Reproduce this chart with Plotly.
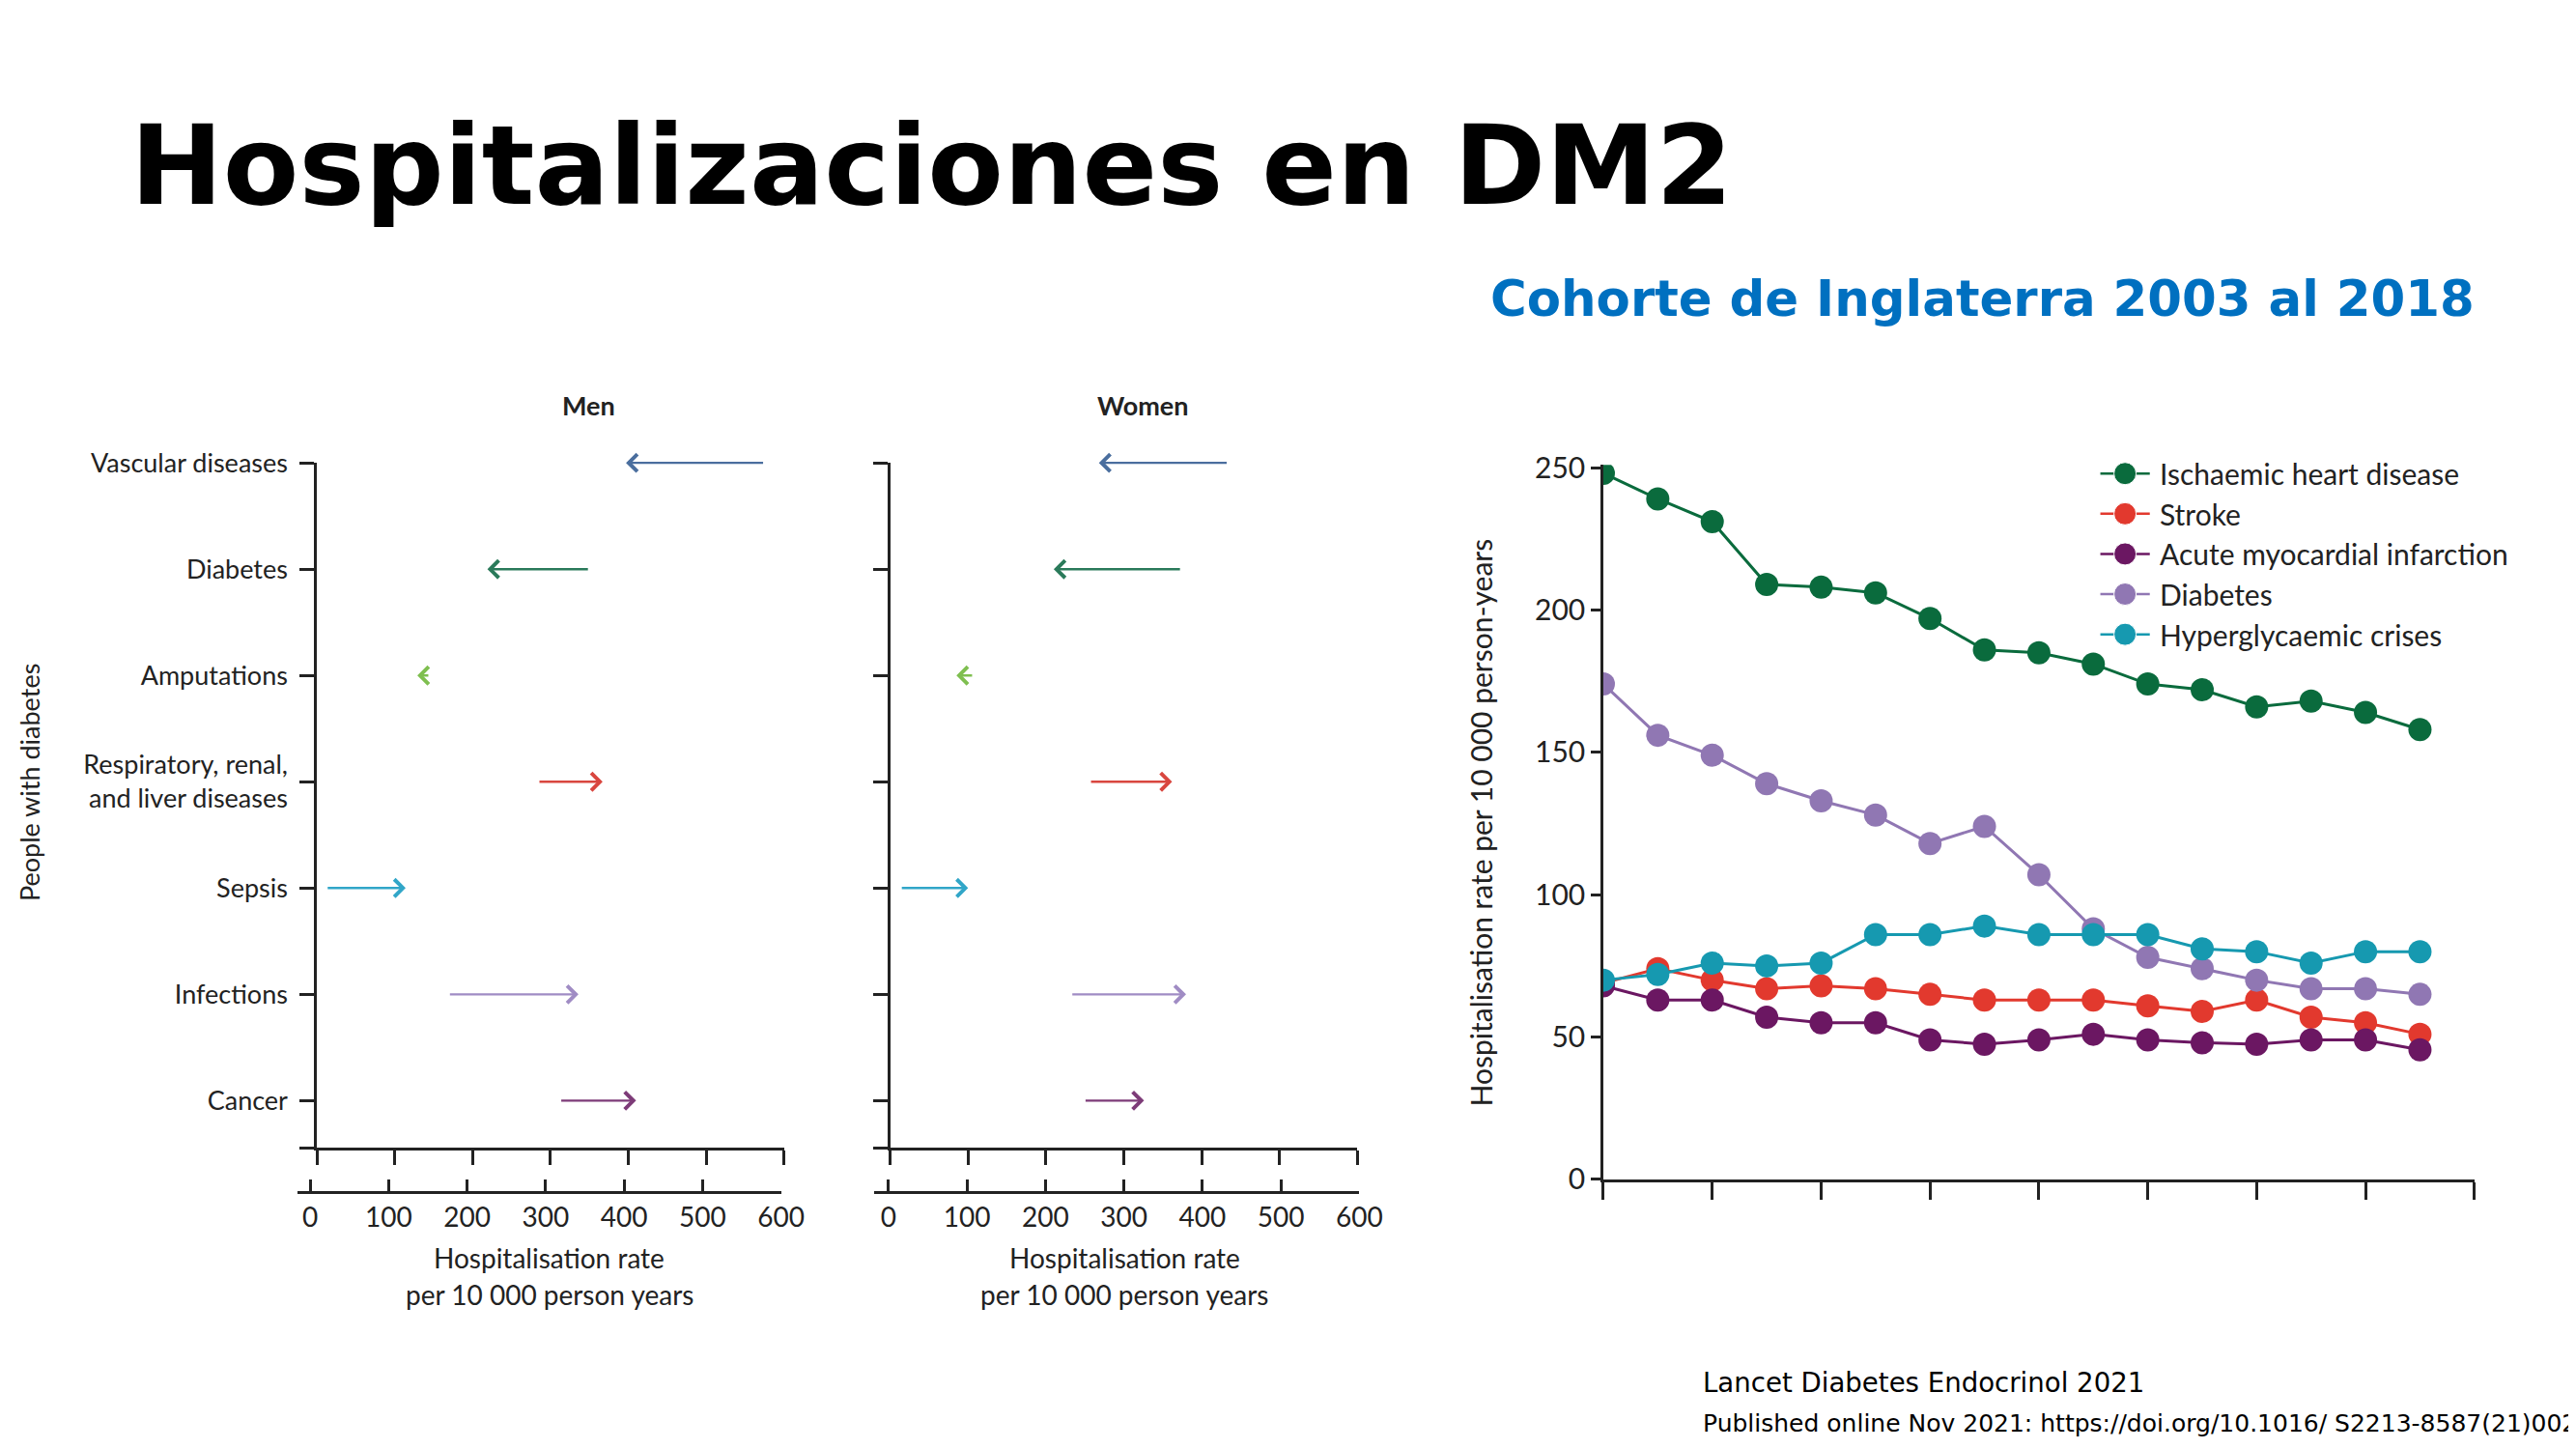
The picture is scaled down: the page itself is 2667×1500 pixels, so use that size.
import plotly.graph_objects as go

W, H = 2667, 1500

# left panels: change in hospitalisation rate (start -> end of period)
categories = ["Vascular diseases", "Diabetes", "Amputations",
              "Respiratory, renal,<br>and liver diseases", "Sepsis",
              "Infections", "Cancer"]
cat_pos = [6, 5, 4, 3, 2, 1, 0]
men_start = [575, 350, 145, 284, 12, 169, 312]
men_end = [397, 219, 129, 367, 114, 336, 410]
women_start = [434, 374, 107, 256, 13, 232, 249]
women_end = [268, 210, 85, 362, 100, 380, 326]
arrow_colors = ["#4a6e9e", "#2a7a5a", "#7fbf50", "#d9463f",
                "#31a6c8", "#a08cc4", "#7d3b78"]
rate_ticks = [0, 100, 200, 300, 400, 500, 600]

# right panel: hospitalisation rate per 10 000 person-years, 2003-2018
years = list(range(2003, 2019))
ihd = [248, 239, 231, 209, 208, 206, 197, 186, 185, 181, 174, 172, 166, 168, 164, 158]
stroke = [69, 74, 70, 67, 68, 67, 65, 63, 63, 63, 61, 59, 63, 57, 55, 51]
ami = [68, 63, 63, 57, 55, 55, 49, 47.5, 49, 51, 49, 48, 47.5, 49, 49, 45.5]
diab = [174, 156, 149, 139, 133, 128, 118, 124, 107, 88, 78, 74, 70, 67, 67, 65]
hyper = [70, 72, 76, 75, 76, 86, 86, 89, 86, 86, 86, 81, 80, 76, 80, 80]
series_names = ["Ischaemic heart disease", "Stroke", "Acute myocardial infarction",
                "Diabetes", "Hyperglycaemic crises"]
series_vals = [ihd, stroke, ami, diab, hyper]
series_colors = ["#0a6b3d", "#e2392e", "#6b1762", "#9077b3", "#1699b0"]


def px(x):
    return x / W


def py(y):
    return 1 - y / H


INK = "#222222"
FONT = "Lato"

fig = go.Figure()

# invisible anchor traces so each panel gets its axes
fig.add_trace(go.Scatter(x=men_end, y=cat_pos, xaxis="x", yaxis="y", mode="markers",
                         marker=dict(opacity=0), showlegend=False, hoverinfo="skip"))
fig.add_trace(go.Scatter(x=women_end, y=cat_pos, xaxis="x2", yaxis="y2", mode="markers",
                         marker=dict(opacity=0), showlegend=False, hoverinfo="skip"))
fig.add_trace(go.Scatter(x=[0], y=[0], xaxis="x3", yaxis="y3", mode="markers",
                         marker=dict(opacity=0), showlegend=False, hoverinfo="skip"))
fig.add_trace(go.Scatter(x=[0], y=[0], xaxis="x4", yaxis="y4", mode="markers",
                         marker=dict(opacity=0), showlegend=False, hoverinfo="skip"))

for name, vals, col in zip(series_names, series_vals, series_colors):
    fig.add_trace(go.Scatter(x=years, y=vals, name=name, xaxis="x5", yaxis="y5",
                             mode="lines+markers", showlegend=False,
                             line=dict(color=col, width=3),
                             marker=dict(color=col, size=24)))

# hand-built legend (bigger markers and longer lines than plotly's own legend)
for i, (name, col) in enumerate(zip(series_names, series_colors)):
    fig.add_trace(go.Scatter(x=[0, 0.5, 1], y=[i, i, i], xaxis="x6", yaxis="y6",
                             mode="lines+markers", showlegend=False, hoverinfo="skip",
                             line=dict(color=col, width=2.5),
                             marker=dict(color=col, size=[0, 23, 0], opacity=1)))
    fig.add_annotation(text=name, x=px(2246), y=i, xref="paper", yref="y6",
                       xanchor="left", yanchor="middle", showarrow=False,
                       font=dict(family=FONT, size=30, color=INK))

# arrows
for i in range(len(categories)):
    for xr, yr, s, e in (("x", "y", men_start, men_end), ("x2", "y2", women_start, women_end)):
        fig.add_annotation(x=e[i], y=cat_pos[i], ax=s[i], ay=cat_pos[i],
                           xref=xr, yref=yr, axref=xr, ayref=yr, text="",
                           showarrow=True, arrowhead=4, arrowsize=1.45,
                           arrowwidth=2.4, arrowcolor=arrow_colors[i], standoff=0)

ymin = -0.444
ytv = cat_pos + [ymin]
common_line = dict(showline=True, linecolor=INK, linewidth=2.5, showgrid=False,
                   zeroline=False, tickcolor=INK, tickwidth=2.5, fixedrange=True)

fig.update_layout(
    width=W, height=H, autosize=False,
    margin=dict(l=0, r=0, t=0, b=0),
    paper_bgcolor="white", plot_bgcolor="rgba(0,0,0,0)",
    font=dict(family=FONT, size=26, color=INK),
    showlegend=False,
    xaxis=dict(domain=[px(323), px(811)], range=[0, 600], anchor="y",
               tickvals=rate_ticks, ticks="outside", ticklen=15,
               showticklabels=False, **common_line),
    yaxis=dict(domain=[py(1190), py(464)], range=[ymin, 6], anchor="x",
               tickvals=ytv, ticktext=categories + [""], ticks="outside", ticklen=15,
               ticklabelstandoff=7,
               tickfont=dict(family=FONT, size=27, color=INK), **common_line),
    xaxis2=dict(domain=[px(922), px(1410)], range=[0, 600], anchor="y2",
                tickvals=rate_ticks, ticks="outside", ticklen=15,
                showticklabels=False, **common_line),
    yaxis2=dict(domain=[py(1190), py(464)], range=[ymin, 6], anchor="x2",
                tickvals=ytv, ticks="outside", ticklen=15,
                showticklabels=False, **common_line),
    xaxis3=dict(domain=[px(303), px(808)], range=[-15.9, 600], anchor="y3",
                tickvals=rate_ticks, ticks="inside", ticklen=12,
                tickfont=dict(family=FONT, size=28, color=INK), **common_line),
    yaxis3=dict(domain=[py(1236), py(1226)], visible=False, fixedrange=True),
    xaxis4=dict(domain=[px(905), px(1412)], range=[-18.4, 600], anchor="y4",
                tickvals=rate_ticks, ticks="inside", ticklen=12,
                tickfont=dict(family=FONT, size=28, color=INK), **common_line),
    yaxis4=dict(domain=[py(1236), py(1226)], visible=False, fixedrange=True),
    xaxis5=dict(domain=[px(1667), px(2577)], range=[2003, 2019], anchor="y5",
                tickvals=list(range(2003, 2020, 2)), ticks="outside", ticklen=18,
                showticklabels=False, **common_line),
    yaxis5=dict(domain=[py(1223.5), py(466)], range=[0, 251], anchor="x5",
                tickvals=[0, 50, 100, 150, 200, 250], ticks="outside", ticklen=10,
                tickfont=dict(family=FONT, size=30, color=INK), **common_line),
    xaxis6=dict(domain=[px(2186), px(2238)], range=[0, 1], anchor="y6",
                visible=False, fixedrange=True),
    yaxis6=dict(domain=[py(667), py(454)], range=[4.5, -0.5], anchor="x6",
                visible=False, fixedrange=True),
)

texts = [
    ("<b>Hospitalizaciones en DM2</b>", 126, 149, "left", dict(family="DejaVu Sans", size=114.5, color="black"), 0),
    ("<b>Cohorte de Inglaterra 2003 al 2018</b>", 1547, 290, "left", dict(family="DejaVu Sans", size=51.4, color="#0070C0"), 0),
    ("<b>Men</b>", 607, 403, "center", dict(family=FONT, size=27, color=INK), 0),
    ("<b>Women</b>", 1186, 403, "center", dict(family=FONT, size=27, color=INK), 0),
    ("People with diabetes", 22, 803, "center", dict(family=FONT, size=27, color=INK), -90),
    ("Hospitalisation rate", 566, 1306, "center", dict(family=FONT, size=28, color=INK), 0),
    ("per 10 000 person years", 566, 1345, "center", dict(family=FONT, size=28, color=INK), 0),
    ("Hospitalisation rate", 1167, 1306, "center", dict(family=FONT, size=28, color=INK), 0),
    ("per 10 000 person years", 1167, 1345, "center", dict(family=FONT, size=28, color=INK), 0),
    ("Hospitalisation rate per 10 000 person-years", 1539, 845, "center", dict(family=FONT, size=30, color=INK), -90),
    ("Lancet Diabetes Endocrinol 2021", 1769, 1439, "left", dict(family="DejaVu Sans", size=27.6, color="black"), 0),
    ("Published online Nov 2021: https://doi.org/10.1016/ S2213-8587(21)002", 1769, 1482, "left", dict(family="DejaVu Sans", size=25, color="black"), 0),
]
for t, x, y, anchor, f, ang in texts:
    fig.add_annotation(text=t, x=px(x), y=py(y), xref="paper", yref="paper",
                       xanchor=anchor, yanchor="middle", showarrow=False,
                       font=f, textangle=ang)

fig.write_html("out.html")
